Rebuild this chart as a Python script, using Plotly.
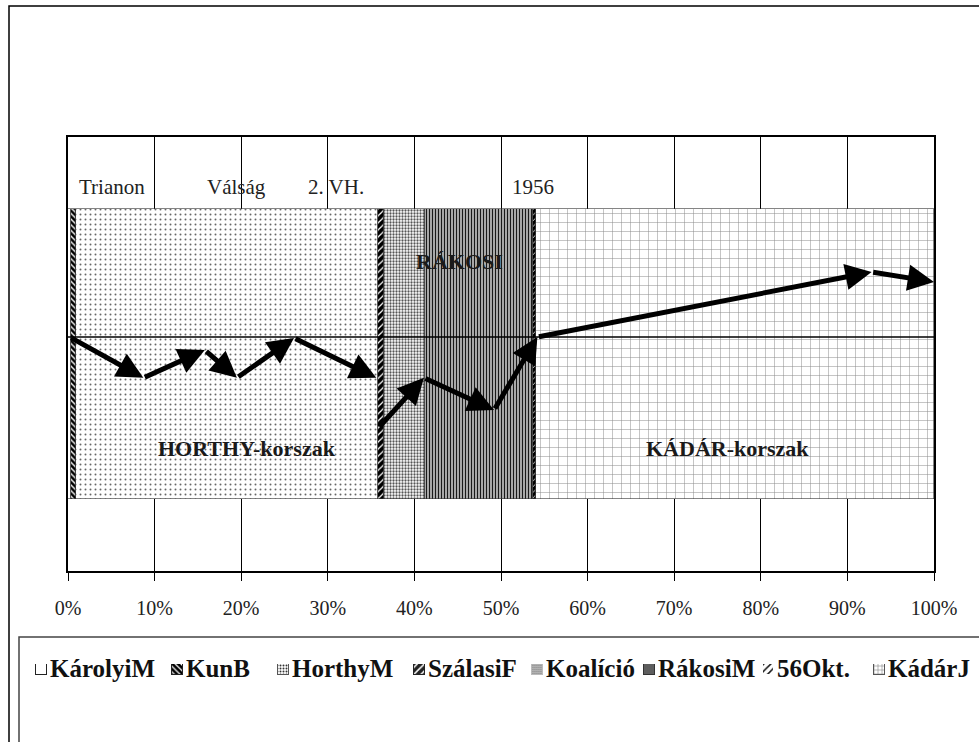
import plotly.graph_objects as go

# ---------------- data ----------------
periods = ["KárolyiM", "KunB", "HorthyM", "SzálasiF", "Koalíció", "RákosiM", "56Okt.", "KádárJ"]
shares = [0.0040, 0.0052, 0.3488, 0.0069, 0.0473, 0.1248, 0.0035, 0.4595]

event_labels = ["Trianon", "Válság", "2. VH.", "1956"]
event_x = [0.051, 0.194, 0.310, 0.537]
event_y = [0.385, 0.385, 0.385, 0.385]

era_labels = ["RÁKOSI", "HORTHY-korszak", "KÁDÁR-korszak"]
era_x = [0.452, 0.207, 0.762]
era_y = [0.212, -0.217, -0.217]

baseline_level = 0.039

# trend arrows (None = break in the path)
trend_x = [0.002, 0.087, 0.158, 0.195, 0.261, 0.356, None, 0.358, 0.411, 0.492, 0.542, 0.928, 1.000]
trend_y = [0.039, -0.055, 0.009, -0.055, 0.037, -0.055, None, -0.171, -0.055, -0.129, 0.039, 0.189, 0.166]

x_ticks = [0, 0.1, 0.2, 0.3, 0.4, 0.5, 0.6, 0.7, 0.8, 0.9, 1.0]

# ---------------- styles ----------------
W, H = 979, 742
SERIF = "Liberation Serif"
styles = {
    "KárolyiM": dict(shape="", fg="black", bg="white", size=6, sol=0.2),
    "KunB": dict(shape="\\", fg="white", bg="black", size=4, sol=0.35),
    "HorthyM": dict(shape=".", fg="#666666", bg="white", size=5, sol=0.12),
    "SzálasiF": dict(shape="/", fg="white", bg="black", size=5, sol=0.25),
    "Koalíció": dict(shape=".", fg="#555555", bg="white", size=3, sol=0.45),
    "RákosiM": dict(shape="|", fg="#1a1a1a", bg="#a8a8a8", size=3, sol=0.35),
    "56Okt.": dict(shape="/", fg="white", bg="black", size=4, sol=0.2),
    "KádárJ": dict(shape="+", fg="#8c8c8c", bg="white", size=9, sol=0.11),
}
# legend swatch looks
swatch = {
    "KárolyiM": dict(shape="", fg="black", bg="white", size=4, sol=0.2, line="#222222"),
    "KunB": dict(shape="\\", fg="white", bg="black", size=4, sol=0.3, line="#222222"),
    "HorthyM": dict(shape=".", fg="#333333", bg="white", size=3, sol=0.35, line="#555555"),
    "SzálasiF": dict(shape="/", fg="white", bg="#222222", size=5, sol=0.3, line="#222222"),
    "Koalíció": dict(shape=".", fg="#555555", bg="white", size=2, sol=0.6, line="#bbbbbb"),
    "RákosiM": dict(shape="|", fg="#222222", bg="#999999", size=2, sol=0.5, line="#333333"),
    "56Okt.": dict(shape="/", fg="#111111", bg="white", size=5, sol=0.3, line="#ffffff"),
    "KádárJ": dict(shape="+", fg="#777777", bg="white", size=4, sol=0.25, line="#555555"),
}

fig = go.Figure()

for name, val in zip(periods, shares):
    s = styles[name]
    fig.add_trace(go.Bar(
        x=[val], y=[0], orientation="h", width=0.666, name=name,
        marker=dict(color=s["bg"], line=dict(color="#333333", width=0.6),
                    pattern=dict(shape=s["shape"], fgcolor=s["fg"], bgcolor=s["bg"],
                                 size=s["size"], solidity=s["sol"], fillmode="replace")),
        showlegend=False, hoverinfo="name",
    ))

# custom legend: one swatch bar per period on hidden pixel-scale axes
leg_cx = [41, 177, 283, 419, 537, 649, 768, 879]
for name, cx in zip(periods, leg_cx):
    s = swatch[name]
    fig.add_trace(go.Bar(
        x=[cx], y=[1], width=[11], base=0, xaxis="x2", yaxis="y2",
        showlegend=False, hoverinfo="skip", name=name,
        marker=dict(color=s["bg"], line=dict(color=s["line"], width=1),
                    pattern=dict(shape=s["shape"], fgcolor=s["fg"], bgcolor=s["bg"],
                                 size=s["size"], solidity=s["sol"], fillmode="replace")),
    ))

annotations = []
for name, cx in zip(periods, leg_cx):
    annotations.append(dict(
        x=(cx + 7) / W, y=(H - 668) / H, xref="paper", yref="paper",
        xanchor="left", yanchor="middle", showarrow=False, text=name,
        font=dict(family=SERIF, size=25, color="#111111", weight="bold")))

for t, x, y in zip(event_labels, event_x, event_y):
    annotations.append(dict(x=x, y=y, xref="x", yref="y", text=t, showarrow=False,
                            font=dict(family=SERIF, size=21, color="#222222")))

for t, x, y in zip(era_labels, era_x, era_y):
    annotations.append(dict(x=x, y=y, xref="x", yref="y", text=t, showarrow=False,
                            font=dict(family=SERIF, size=22, color="#1a1a1a", weight="bold")))

for i in range(len(trend_x) - 1):
    x0, y0, x1, y1 = trend_x[i], trend_y[i], trend_x[i + 1], trend_y[i + 1]
    if None in (x0, y0, x1, y1):
        continue
    annotations.append(dict(x=x1, y=y1, ax=x0, ay=y0, xref="x", yref="y",
                            axref="x", ayref="y", text="", showarrow=True,
                            arrowhead=2, arrowsize=1.05, arrowwidth=5,
                            arrowcolor="black", standoff=0, startstandoff=0))

shapes = [
    dict(type="line", xref="x", yref="y", x0=0, x1=1, y0=baseline_level, y1=baseline_level,
         line=dict(color="black", width=1.5), layer="above"),
    dict(type="rect", xref="paper", yref="paper", x0=9 / W, x1=1.02, y0=(H - 6) / H, y1=-0.02,
         line=dict(color="black", width=1.5)),
    dict(type="rect", xref="paper", yref="paper", x0=19 / W, x1=1.02, y0=(H - 637) / H, y1=-0.02,
         line=dict(color="#444444", width=1.5)),
]

fig.update_layout(
    width=W, height=H, margin=dict(l=0, r=0, t=0, b=0, autoexpand=False),
    paper_bgcolor="white", plot_bgcolor="white",
    barmode="stack", bargap=0, showlegend=False,
    xaxis=dict(domain=[68 / W, 934 / W], range=[0, 1], tickvals=x_ticks, tickformat=".0%",
               showgrid=True, gridcolor="black", gridwidth=1, zeroline=False, automargin=False,
               showline=True, linecolor="black", linewidth=2, mirror=True,
               ticks="outside", ticklen=8, tickcolor="black", ticklabelstandoff=10,
               tickfont=dict(family=SERIF, size=20, color="#222222"), fixedrange=True),
    yaxis=dict(domain=[(H - 571) / H, (H - 137) / H], range=[-0.5, 0.5], showticklabels=False,
               showgrid=False, zeroline=False, showline=True, linecolor="black", linewidth=2,
               mirror=True, ticks="", fixedrange=True, automargin=False),
    xaxis2=dict(domain=[0, 1], range=[0, W], visible=False, anchor="y2", fixedrange=True,
                automargin=False),
    yaxis2=dict(domain=[(H - 675) / H, (H - 664) / H], range=[0, 1], visible=False,
                anchor="x2", fixedrange=True, automargin=False),
    annotations=annotations, shapes=shapes,
)

fig.write_html("out.html", config={"displayModeBar": False},
               post_script="document.body.style.margin='0';")
